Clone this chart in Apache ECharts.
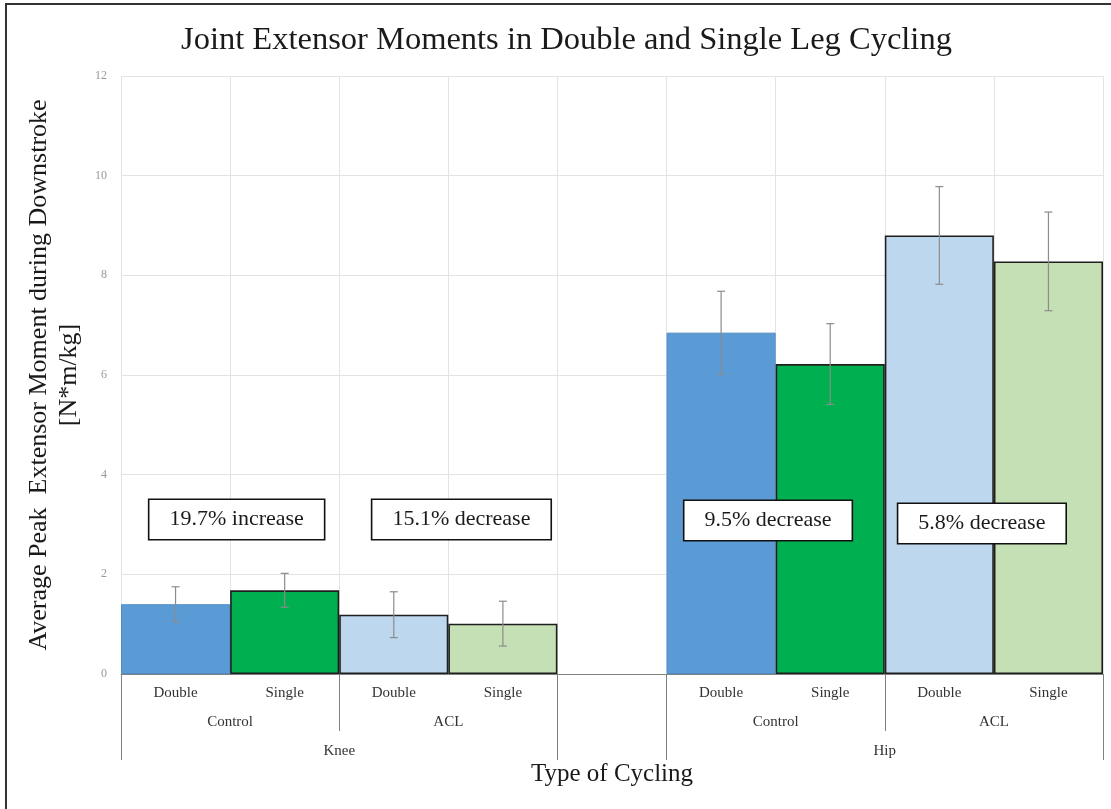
<!DOCTYPE html>
<html>
<head>
<meta charset="utf-8">
<script src="https://cdn.jsdelivr.net/npm/echarts@6/dist/echarts.min.js"></script>
<style>
  html, body { margin: 0; padding: 0; background: #fff; }
  #main { width: 1111px; height: 809px; }
</style>
</head>
<body>
<div id="main"></div>
<script>
// categories along the axis (empty slot = gap between Knee and Hip)
const joints = ['Knee', 'Hip']
const groups = ['Control', 'ACL']
const categories = ['Double', 'Single', 'Double', 'Single', '', 'Double', 'Single', 'Double', 'Single']

// average peak extensor moment [N*m/kg] and error (+/-)
const means = [1.40, 1.68, 1.19, 1.01, null, 6.85, 6.22, 8.80, 8.28]
const errors = [0.35, 0.34, 0.46, 0.45, null, 0.83, 0.81, 0.98, 0.99]

// annotation texts
const notes = ['19.7% increase', '15.1% decrease', '9.5% decrease', '5.8% decrease']
const notePos = [[1.06, 3.1], [3.12, 3.1], [5.93, 3.08], [7.89, 3.02]]

// style per slot: control double / control single / acl double / acl single
const fills = ['#5B9BD5', '#00B050', '#BDD7EE', '#C5E0B4']
const FONT = '"Liberation Serif", "Times New Roman", serif'

//group label positions on a 0..9 value scale
const groupCenter = {}, jointCenter = {}
const midTicks = [], fullTicks = []
joints.forEach(function (j, ji) {
  const off = ji * 5
  groups.forEach(function (g, gi) {
    groupCenter[off + gi * 2 + 1] = g
  })
  jointCenter[off + 2] = j
  midTicks.push(off + 2)
  fullTicks.push(off, off + 4)
})

const barData = means.map(function (v, i) {
  if (v == null) return null
  const k = i > 4 ? i - 5 : i
  return {
    value: v,
    itemStyle: {
      color: fills[k],
      borderColor: k === 0 ? '#4f8cc6' : '#1f1f1f',
      borderWidth: k === 0 ? 1 : 1.6,
    }
  }
})

const errData = []
means.forEach(function (v, i) {
  if (v != null) errData.push([i, v - errors[i], v + errors[i]])
})

const chart = echarts.init(document.getElementById('main'))

chart.setOption({
  backgroundColor: '#fff',
  animation: false,
  title: {
    text: 'Joint Extensor Moments in Double and Single Leg Cycling',
    left: 176,
    top: 19,
    textStyle: { fontFamily: FONT, fontSize: 32.5, fontWeight: 'normal', color: '#1a1a1a' }
  },
  graphic: [{
    type: 'rect',
    shape: { x: 6, y: 4, width: 1200, height: 900 },
    style: { fill: 'none', stroke: '#333', lineWidth: 2 },
    silent: true,
    z: -1
  }],
  grid: { left: 121, right: 8, top: 76, bottom: 135 },
  xAxis: [{
    type: 'category',
    data: categories,
    boundaryGap: true,
    name: 'Type of Cycling',
    nameLocation: 'middle',
    nameGap: 88,
    nameTextStyle: { fontFamily: FONT, fontSize: 25, color: '#1a1a1a' },
    axisLine: { show: true, lineStyle: { color: '#808080', width: 1 } },
    axisTick: { show: false },
    axisLabel: { interval: 0, margin: 12, fontFamily: FONT, fontSize: 15, color: '#333' },
    splitLine: { show: true, interval: 0, lineStyle: { color: '#e3e3e3', width: 1 } }
  }, {
    type: 'value',
    min: 0,
    max: 9,
    position: 'bottom',
    axisLine: { show: false },
    splitLine: { show: false },
    axisTick: { show: true, customValues: midTicks, length: 57, lineStyle: { color: '#808080' } },
    axisLabel: {
      customValues: Object.keys(groupCenter).map(Number),
      formatter: function (v) { return groupCenter[v] || '' },
      margin: 41, fontFamily: FONT, fontSize: 15, color: '#333'
    }
  }, {
    type: 'value',
    min: 0,
    max: 9,
    position: 'bottom',
    axisLine: { show: false },
    splitLine: { show: false },
    axisTick: { show: true, customValues: fullTicks, length: 86, lineStyle: { color: '#808080' } },
    axisLabel: {
      customValues: Object.keys(jointCenter).map(Number),
      formatter: function (v) { return jointCenter[v] || '' },
      margin: 70, fontFamily: FONT, fontSize: 15, color: '#333'
    }
  }],
  yAxis: {
    type: 'value',
    min: 0,
    max: 12,
    interval: 2,
    name: 'Average Peak  Extensor Moment during Downstroke\n[N*m/kg]',
    nameLocation: 'middle',
    nameGap: 36,
    nameTextStyle: { fontFamily: FONT, fontSize: 26, color: '#1a1a1a', lineHeight: 30 },
    axisLine: { show: false },
    axisTick: { show: false },
    axisLabel: { margin: 14, fontFamily: FONT, fontSize: 12, color: '#999' },
    splitLine: { lineStyle: { color: '#e3e3e3', width: 1 } }
  },
  series: [{
    type: 'bar',
    data: barData,
    barWidth: '100%',
    z: 2
  }, {
    type: 'custom',
    data: errData,
    z: 3,
    renderItem: function (params, api) {
      const lo = api.coord([api.value(0), api.value(1)])
      const hi = api.coord([api.value(0), api.value(2)])
      const w = 4
      const st = { stroke: '#8c8c8c', lineWidth: 1.2 }
      return {
        type: 'group',
        children: [
          { type: 'line', shape: { x1: hi[0], y1: hi[1], x2: lo[0], y2: lo[1] }, style: st },
          { type: 'line', shape: { x1: hi[0] - w, y1: hi[1], x2: hi[0] + w, y2: hi[1] }, style: st },
          { type: 'line', shape: { x1: lo[0] - w, y1: lo[1], x2: lo[0] + w, y2: lo[1] }, style: st }
        ]
      }
    }
  }, {
    type: 'scatter',
    xAxisIndex: 1,
    symbolSize: 0,
    z: 5,
    itemStyle: { opacity: 1 },
    data: notePos.map(function (p, i) { return { value: p, name: notes[i] } }),
    label: {
      show: true,
      position: 'inside',
      formatter: '{b}',
      opacity: 1,
      fontFamily: FONT,
      fontSize: 22,
      color: '#1a1a1a',
      backgroundColor: '#ffffff',
      borderColor: '#111',
      borderWidth: 1.6,
      padding: [9, 20, 8, 20]
    },
    emphasis: { disabled: true }
  }]
})
</script>
</body>
</html>
